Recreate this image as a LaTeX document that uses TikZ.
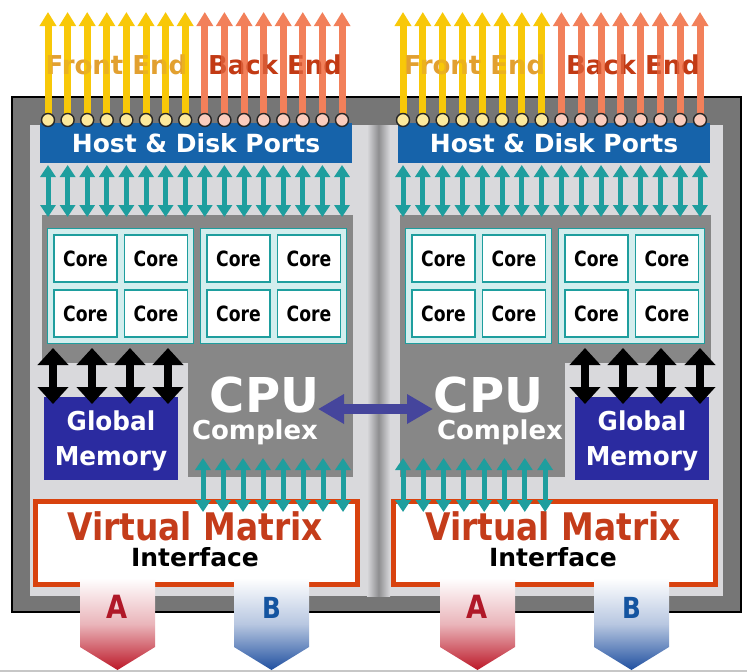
\documentclass[tikz,border=0pt]{standalone}
\usepackage{fontspec}
\setmainfont{DejaVu Sans}
\usetikzlibrary{arrows.meta}
\definecolor{framegray}{HTML}{767676}
\definecolor{panel}{HTML}{D9D9DC}
\definecolor{groove}{HTML}{8E8E90}
\definecolor{cpugray}{HTML}{878787}
\definecolor{hostblue}{HTML}{1663AA}
\definecolor{memblue}{HTML}{2B2BA0}
\definecolor{tealc}{HTML}{1E9E9E}
\definecolor{clusterfill}{HTML}{D3EEEE}
\definecolor{feY}{HTML}{F8C808}
\definecolor{beO}{HTML}{F2805A}
\definecolor{feText}{HTML}{E2A030}
\definecolor{beText}{HTML}{C23A14}
\definecolor{vmRed}{HTML}{D8420E}
\definecolor{vmText}{HTML}{C43C1A}
\definecolor{purp}{HTML}{45459C}
\definecolor{aRed}{HTML}{BC1828}
\definecolor{bBlue}{HTML}{2050A0}
\definecolor{aText}{HTML}{B01828}
\definecolor{bText}{HTML}{1454A0}
\newcommand\fsz[1]{\fontsize{#1}{#1}\selectfont}
\begin{document}
\begin{tikzpicture}[x=1pt,y=-1pt,
  txt/.style={inner sep=0pt, outer sep=0pt, anchor=base},
  hostbar/.style={fill=hostblue, minimum width=312pt, minimum height=40pt, inner sep=0pt},
  cluster/.style={fill=clusterfill, draw=tealc, line width=1pt, minimum width=146pt, minimum height=115pt, inner sep=0pt},
  corebox/.style={fill=white, draw=tealc, line width=1.2pt, minimum width=63pt, minimum height=47pt, inner sep=0pt, font=\bfseries\fsz{21}},
  membox/.style={fill=memblue, minimum width=134pt, minimum height=83pt, inner sep=0pt},
  vmibox/.style={fill=white, draw=vmRed, line width=5.5pt, minimum width=322pt, minimum height=83pt, inner sep=0pt},
  port/.style={circle, draw=black!85, line width=1.4pt, minimum size=13pt, inner sep=0pt},
  uparrow/.style={line width=7pt, -{Triangle[length=14pt,width=16pt]}},
  tealdbl/.style={draw=tealc, line width=5pt, {Triangle[length=12pt,width=15pt]}-{Triangle[length=12pt,width=15pt]}},
  blackdbl/.style={draw=black, line width=8pt, {Triangle[length=17pt,width=30pt]}-{Triangle[length=17pt,width=30pt]}},
  purpdbl/.style={draw=purp, line width=10pt, {Triangle[length=26pt,width=28pt]}-{Triangle[length=26pt,width=28pt]}}
]
\useasboundingbox (0,0) rectangle (747,672);
\fill[white] (0,0) rectangle (747,672);
\draw[black!22, line width=2pt] (0,671) -- (747,671);
% frame and panels
\draw[fill=framegray, draw=black, line width=2.5pt] (12,97) rectangle (741,612);
\fill[panel] (30,125) rectangle (723,596);
\shade[left color=panel, right color=panel, middle color=groove] (367,125) rectangle (390,596);
% boards
\foreach \bx/\m/\s/\xs/\dx/\lx/\ldx in {0/1/L/48/19.6/203/20, 358/-1/R/403/19.8/403/20.3} {
  \pgfmathsetmacro\gc{197.5+\bx}
  \fill[cpugray] (42+\bx,215) rectangle (353+\bx,363);
  \fill[cpugray] ({\gc+\m*(-9.5)},363) rectangle ({\gc+\m*155.5},477);
  \node[cluster] (clA\s) at (120+\bx,285.5) {};
  \node[cluster] (clB\s) at (273.5+\bx,285.5) {};
  \foreach \cx [count=\ci] in {85.5,156,238.5,309} {
    \foreach \cy [count=\cj] in {258.5,313.5} {
      \node[corebox] (core\s\ci\cj) at (\cx+\bx,\cy) {\scalebox{0.82}[1]{Core}};
    }
  }
  \node[membox] (mem\s) at ({\gc+\m*(-86.5)},438.5) {};
  \node[txt, text=white, font=\bfseries\fsz{26}] (memA\s) at ({\gc+\m*(-86.5)},430) {\scalebox{0.95}[1]{Global}};
  \node[txt, text=white, font=\bfseries\fsz{26}] (memB\s) at ({\gc+\m*(-86.5)},465) {\scalebox{0.95}[1]{Memory}};
  \foreach \o [count=\k] in {-144.5,-105.5,-67.5,-29.5} {
    \coordinate (bu\s\k) at ({\gc+\m*\o},348);
    \coordinate (bd\s\k) at ({\gc+\m*\o},404);
    \draw[blackdbl] (bu\s\k) -- (bd\s\k);
  }
  \node[hostbar] (host\s) at (196+\bx,143) {};
  \node[txt, text=white, font=\bfseries\fsz{25}] (hostt\s) at (196+\bx,152) {Host \& Disk Ports};
  \node[vmibox] (vmi\s) at (196.5+\bx,543) {};
  \node[txt, text=vmText, font=\bfseries\fsz{38}] (vmit\s) at (195+\bx,540) {\scalebox{0.865}[1]{Virtual Matrix}};
  \node[txt, text=black, font=\bfseries\fsz{25}] (vmis\s) at (195+\bx,566.5) {Interface};
  % port arrows (solid)
  \foreach \i in {0,...,15} {
    \pgfmathsetmacro\px{\xs+\i*\dx}
    \ifnum\i<8 \def\ac{feY}\else\def\ac{beO}\fi
    \coordinate (tip\s\i) at (\px,12);
    \coordinate (pin\s\i) at (\px,120);
    \draw[uparrow, draw=\ac, fill=\ac] (pin\s\i) -- (tip\s\i);
    \coordinate (tu\s\i) at (\px,165);
    \coordinate (td\s\i) at (\px,217);
    \draw[tealdbl] (tu\s\i) -- (td\s\i);
  }
  % Front / Back End labels
  \node[txt, text=feText, font=\bfseries\fsz{26}] (fe\s) at (116.5+\bx,74) {Front End};
  \node[txt, text=beText, font=\bfseries\fsz{26}] (be\s) at (275+\bx,74) {Back End};
  % translucent shaft overlay and ports
  \foreach \i in {0,...,15} {
    \pgfmathsetmacro\px{\xs+\i*\dx}
    \ifnum\i<8 \def\ac{feY}\else\def\ac{beO}\fi
    \fill[\ac, opacity=0.45] (\px-3.5,48) rectangle (\px+3.5,80);
    \node[port, fill=\ac!40!white] (port\s\i) at (pin\s\i) {};
  }
  \foreach \j in {0,...,7} {
    \pgfmathsetmacro\qx{\lx+\j*\ldx}
    \coordinate (lu\s\j) at (\qx,458);
    \coordinate (ld\s\j) at (\qx,512);
    \draw[tealdbl] (lu\s\j) -- (ld\s\j);
  }
}
% CPU labels
\node[txt, text=white, font=\bfseries\fsz{48}] (cpuL) at (264.5,412) {CPU};
\node[txt, anchor=base east, text=white, font=\bfseries\fsz{26}] (cplxL) at (318,439) {Complex};
\node[txt, text=white, font=\bfseries\fsz{48}] (cpuR) at (488.5,412) {CPU};
\node[txt, anchor=base west, text=white, font=\bfseries\fsz{26}] (cplxR) at (437,439) {Complex};
\coordinate (pa) at (318,409);
\coordinate (pb) at (433,409);
\draw[purpdbl] (pa) -- (pb);
% A / B output arrows
\foreach \c/\col/\tcol/\lab/\fs/\nm in {117.5/aRed/aText/A/32/aL, 271.5/bBlue/bText/B/29/bL, 477.5/aRed/aText/A/32/aR, 631.5/bBlue/bText/B/29/bR} {
  \shade[top color=white, bottom color=\col, middle color=\col!32!white]
    (\c-37.5,578) -- (\c+37.5,578) -- (\c+37.5,647) -- (\c,670) -- (\c-37.5,647) -- cycle;
  \node[txt, text=\tcol, font=\bfseries\fsz{\fs}] (\nm) at (\c,618) {\scalebox{0.85}[1]{\lab}};
}
\end{tikzpicture}
\end{document}
